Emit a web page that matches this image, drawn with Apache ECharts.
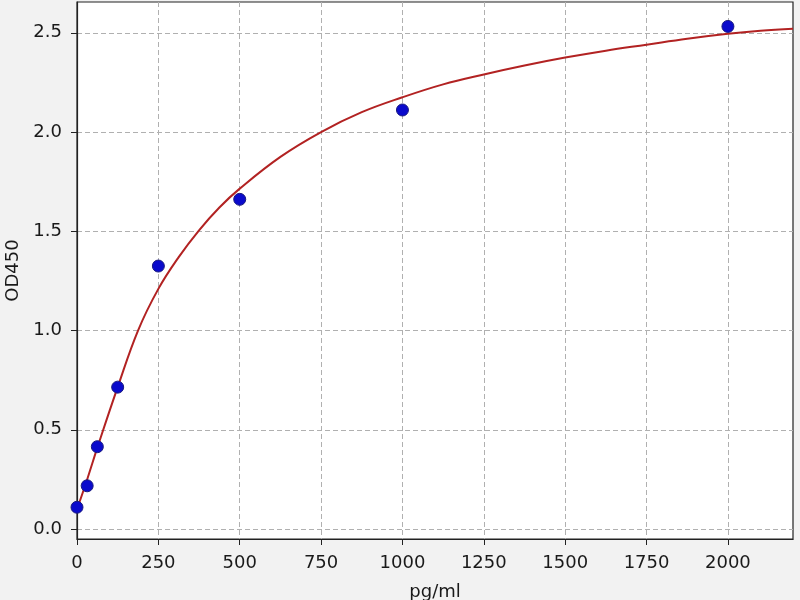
<!DOCTYPE html>
<html lang="en" style="height: 100%">
<head>
  <meta charset="utf-8">
  <title>OD450 standard curve</title>
  <style>
    html, body { height: 100%; margin: 0; background: #f2f2f2; }
    #container { width: 800px; height: 600px; }
  </style>
</head>
<body>
  <div id="container"></div>
  <script src="https://cdn.jsdelivr.net/npm/echarts@6/dist/echarts.min.js"></script>
  <script type="text/javascript">
    // standard points (pg/ml -> OD450)
    var conc = [0, 31.25, 62.5, 125, 250, 500, 1000, 2000];
    var od = [0.11, 0.218, 0.415, 0.715, 1.325, 1.661, 2.111, 2.532];

    // fitted curve
    var curveX = [0, 31.25, 62.5, 125, 187.5, 250, 312.5, 375, 437.5, 500, 625, 750, 875, 1000, 1125, 1250, 1375, 1500, 1625, 1750, 1875, 2000, 2100, 2200];
    var curveY = [0.10, 0.25, 0.41, 0.715, 1.0, 1.21, 1.37, 1.505, 1.62, 1.715, 1.875, 2.0, 2.10, 2.175, 2.24, 2.29, 2.335, 2.375, 2.41, 2.44, 2.47, 2.495, 2.51, 2.52];

    var xTicks = [0, 250, 500, 750, 1000, 1250, 1500, 1750, 2000];
    var yTicks = [0, 0.5, 1.0, 1.5, 2.0, 2.5];

    var dom = document.getElementById('container');
    var myChart = echarts.init(dom, null, { renderer: 'canvas' });

    var font = 'DejaVu Sans';
    var textColor = '#1a1a1a';
    var gridLine = { show: true, lineStyle: { color: '#b0b0b0', width: 1, type: [5, 3] } };

    var option = {
      backgroundColor: '#f2f2f2',
      animation: false,
      grid: {
        left: 77, right: 7, top: 2, bottom: 61,
        outerBoundsMode: 'none',
        containLabel: false,
        show: true, backgroundColor: '#fff', borderColor: '#222', borderWidth: 1.2
      },
      xAxis: {
        type: 'value',
        min: 0,
        max: 2200,
        name: 'pg/ml',
        nameLocation: 'middle',
        nameGap: 44,
        nameTextStyle: { fontFamily: font, fontSize: 18, color: textColor },
        axisLine: { show: true, onZero: false, lineStyle: { color: '#222', width: 1.2 } },
        axisTick: { show: true, length: 6, customValues: xTicks, lineStyle: { color: '#222' } },
        axisLabel: {
          customValues: xTicks, margin: 15, fontFamily: font, fontSize: 18, color: textColor,
          formatter: function (v) { return String(v); }
        },
        splitLine: gridLine
      },
      yAxis: {
        type: 'value',
        min: -0.05,
        max: 2.655,
        name: 'OD450',
        nameLocation: 'middle',
        nameGap: 53,
        nameTextStyle: { fontFamily: font, fontSize: 18, color: textColor },
        axisLine: { show: true, onZero: false, lineStyle: { color: '#222', width: 1.2 } },
        axisTick: { show: true, length: 6, customValues: yTicks, lineStyle: { color: '#222' } },
        axisLabel: {
          customValues: yTicks, margin: 15, fontFamily: font, fontSize: 18, color: textColor,
          formatter: function (v) { return v.toFixed(1); }
        },
        splitLine: gridLine
      },
      series: [
        {
          type: 'line',
          data: curveX.map(function (x, i) { return [x, curveY[i]]; }),
          smooth: 0.4,
          showSymbol: false,
          lineStyle: { color: '#b22222', width: 2 },
          z: 2
        },
        {
          type: 'scatter',
          data: conc.map(function (x, i) { return [x, od[i]]; }),
          symbolSize: 12,
          itemStyle: { color: '#0a0acc', borderColor: '#1a1a80', borderWidth: 1, opacity: 1 },
          z: 3
        }
      ]
    };

    myChart.setOption(option);
    window.addEventListener('resize', myChart.resize);
  </script>
</body>
</html>
